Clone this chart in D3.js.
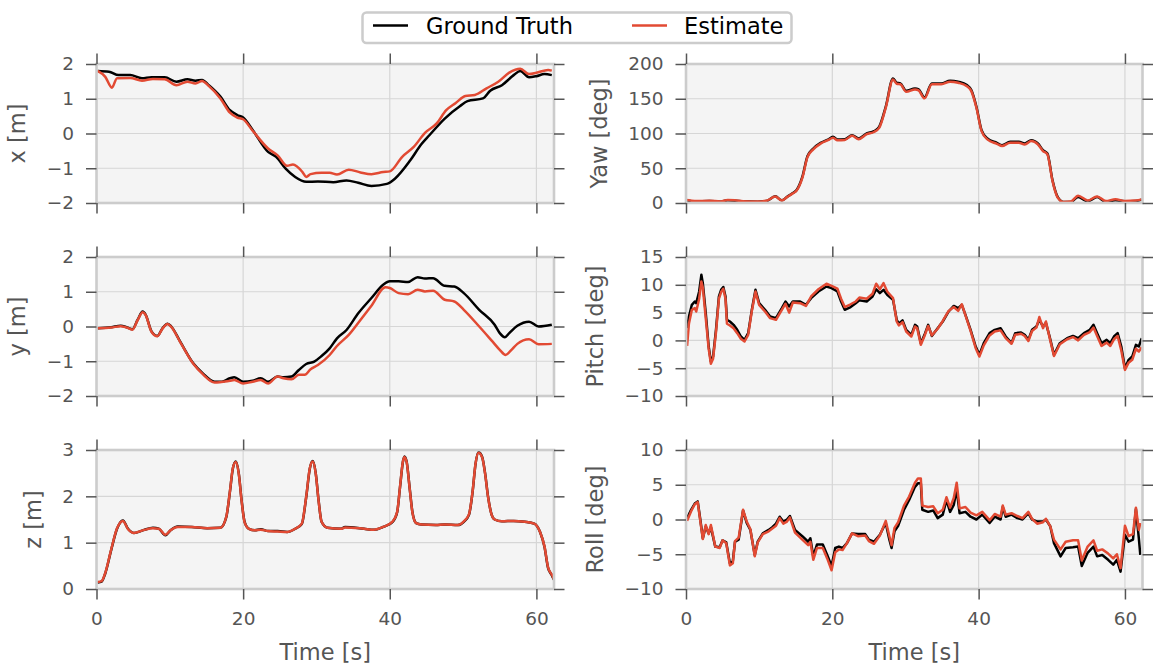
<!DOCTYPE html>
<html><head><meta charset="utf-8">
<script src="https://cdn.jsdelivr.net/npm/d3@7"></script>
<style>body{margin:0;background:#fff;} svg{display:block;font-family:"DejaVu Sans",sans-serif;}</style>
</head><body><svg id="c" width="1161" height="669"></svg>
<script>
// ---------- tick labels ----------
const timeTicks = [0, 20, 40, 60];
const posTicks = [-2, -1, 0, 1, 2];
const zTicks = [0, 1, 2, 3];
const yawTicks = [0, 50, 100, 150, 200];
const pitchTicks = [-10, -5, 0, 5, 10, 15];
const rollTicks = [-10, -5, 0, 5, 10];
const seriesNames = ["Ground Truth", "Estimate"];

// ---------- x [m] ----------
const xTimeGT = [0.15,1.7,3.0,4.6,6.2,7.5,9.3,10.9,12.4,13.5,14.4,15.3,16.9,18.2,19.2,20.0,21.3,23.4,24.5,25.8,27.1,28.6,30.2,32.3,34.1,35.7,37.5,39.6,40.7,42.8,44.3,45.4,47.5,49.6,50.6,52.7,53.7,55.3,56.9,57.8,59.0,60.0,61.1,62.1];
const xGT = [1.80,1.78,1.68,1.68,1.59,1.62,1.62,1.49,1.56,1.52,1.54,1.39,1.06,0.67,0.53,0.46,0.10,-0.53,-0.67,-1.01,-1.25,-1.39,-1.38,-1.40,-1.35,-1.42,-1.51,-1.45,-1.30,-0.77,-0.31,-0.05,0.43,0.79,0.93,1.01,1.23,1.39,1.68,1.80,1.62,1.65,1.71,1.68];
const xTimeEst = [0.15,1.2,2.1,2.8,4.6,6.2,7.7,9.3,10.9,12.4,13.5,14.4,15.3,16.9,18.2,19.2,20.0,21.3,23.4,24.7,26.0,26.8,28.1,28.6,29.2,30.7,31.8,32.8,34.4,36.0,37.5,39.1,40.0,41.7,43.3,44.8,46.4,47.7,49.0,50.3,51.6,53.2,54.8,56.3,57.8,59.0,60.0,61.6,62.1];
const xEst = [1.80,1.63,1.32,1.59,1.60,1.52,1.57,1.56,1.39,1.49,1.44,1.51,1.37,1.01,0.60,0.46,0.41,0.08,-0.43,-0.63,-0.93,-0.89,-1.11,-1.25,-1.17,-1.13,-1.13,-1.18,-1.04,-1.12,-1.17,-1.11,-1.09,-0.67,-0.38,0.02,0.29,0.67,0.88,1.08,1.11,1.30,1.49,1.75,1.86,1.71,1.75,1.83,1.81];

// ---------- y [m] ----------
const yTimeGT = [0.15,2.0,3.3,4.1,4.9,5.6,6.3,6.7,7.5,8.3,9.0,9.7,10.2,11.4,13.2,14.5,16.1,17.1,18.2,18.8,20.0,21.3,22.4,23.4,24.7,25.5,26.6,27.6,28.6,29.7,30.7,31.8,32.8,34.1,35.7,37.5,39.1,40.0,41.2,42.5,43.8,44.8,45.9,47.5,48.8,50.1,52.2,54.3,55.0,55.7,56.3,57.4,59.0,60.3,62.1];
const yGT = [-0.05,-0.02,0.02,-0.02,-0.08,0.19,0.43,0.34,-0.14,-0.27,-0.05,0.08,0.0,-0.43,-1.06,-1.35,-1.59,-1.59,-1.49,-1.46,-1.59,-1.56,-1.49,-1.59,-1.44,-1.46,-1.44,-1.25,-1.08,-1.01,-0.85,-0.63,-0.34,-0.10,0.38,0.82,1.20,1.30,1.30,1.28,1.42,1.38,1.39,1.17,1.15,0.96,0.48,0.05,-0.19,-0.31,-0.19,0.02,0.14,0.0,0.05];
const yTimeEst = [0.15,2.0,3.3,4.1,4.9,5.6,6.3,6.7,7.5,8.3,9.0,9.7,10.2,11.4,13.2,14.5,16.1,18.2,18.8,20.0,21.3,22.4,23.4,24.7,25.5,26.6,27.6,28.4,29.2,30.2,31.8,32.8,34.4,36.0,37.5,39.4,40.1,41.2,42.5,43.8,44.8,45.9,47.5,48.8,50.1,52.2,54.0,55.0,55.8,56.6,57.4,59.0,60.3,62.1];
const yEst = [-0.05,-0.03,0.01,-0.03,-0.09,0.18,0.41,0.33,-0.15,-0.28,-0.06,0.07,-0.01,-0.44,-1.07,-1.37,-1.61,-1.56,-1.54,-1.64,-1.59,-1.54,-1.64,-1.44,-1.49,-1.52,-1.39,-1.39,-1.23,-1.11,-0.82,-0.56,-0.24,0.19,0.60,1.13,1.10,0.96,0.93,1.06,1.01,1.03,0.77,0.72,0.48,0.0,-0.43,-0.67,-0.82,-0.67,-0.50,-0.37,-0.51,-0.50];

// ---------- z [m] ----------
const zTime = [0.15,0.7,1.2,2.0,2.8,3.6,4.3,5.1,6.4,7.7,8.5,9.4,10.1,11.1,13.0,15.1,16.9,17.7,18.2,18.6,19.0,19.4,19.8,20.2,20.8,21.6,22.4,23.4,24.7,26.0,27.1,28.0,28.6,29.1,29.5,29.9,30.3,30.7,31.5,33.4,33.9,36.5,37.8,39.1,40.4,41.0,41.4,41.8,42.0,42.3,42.7,43.1,43.6,44.3,46.3,47.5,49.3,50.1,50.8,51.3,51.7,52.1,52.6,53.0,53.4,53.9,54.3,55.3,56.9,58.4,59.7,60.5,61.1,61.6,62.1,62.4];
const zGT = [0.14,0.16,0.34,0.84,1.30,1.48,1.30,1.21,1.27,1.32,1.30,1.16,1.27,1.35,1.34,1.31,1.32,1.55,2.10,2.60,2.75,2.50,1.90,1.45,1.30,1.27,1.29,1.25,1.25,1.23,1.30,1.40,1.98,2.60,2.76,2.50,1.90,1.45,1.32,1.30,1.34,1.30,1.28,1.34,1.45,1.65,2.20,2.75,2.86,2.75,2.20,1.65,1.42,1.39,1.38,1.39,1.38,1.45,1.60,2.10,2.70,2.95,2.85,2.50,2.00,1.60,1.50,1.46,1.47,1.45,1.41,1.23,0.91,0.45,0.30,0.20];
const zEst = [0.15,0.17,0.35,0.85,1.31,1.47,1.29,1.21,1.27,1.31,1.30,1.17,1.27,1.34,1.34,1.31,1.32,1.56,2.11,2.61,2.74,2.49,1.89,1.44,1.30,1.27,1.28,1.25,1.24,1.23,1.30,1.41,1.99,2.61,2.75,2.49,1.89,1.45,1.32,1.30,1.33,1.30,1.28,1.34,1.46,1.66,2.21,2.76,2.85,2.74,2.19,1.64,1.42,1.39,1.38,1.39,1.38,1.46,1.61,2.11,2.71,2.94,2.84,2.49,1.99,1.60,1.50,1.46,1.47,1.45,1.41,1.23,0.92,0.46,0.31,0.21];

// ---------- Yaw [deg] ----------
const yawTime = [0.15,1.2,3.2,4.7,5.7,6.7,7.8,9.8,11.0,12.2,13.1,13.8,14.6,15.1,15.9,16.6,17.4,18.4,19.4,20.1,20.7,21.7,22.7,23.6,24.7,25.7,26.4,27.3,28.3,28.8,29.3,30.1,31.3,31.8,32.6,33.6,34.9,36.1,37.2,38.4,39.0,39.7,40.4,41.2,42.5,43.2,44.3,45.5,46.3,47.2,48.1,48.8,49.4,50.1,50.8,51.6,52.6,53.6,54.9,56.2,57.4,58.7,60.0,61.5,62.3];
const yawGT = [3.8,2.4,2.9,1.9,3.8,3.4,2.4,1.9,2.9,9.6,3.8,8.7,14.4,18.3,37.5,67.3,78.4,86.5,91.3,95.2,91.3,91.8,97.6,92.8,100,103.4,109.6,138.5,179.3,173.1,172.1,161.5,164.9,163.5,151.9,172.1,172.1,176,174.5,169.7,162.5,138.5,104.8,92.8,86.5,83.2,88,88,85.6,90.4,85.6,76,71.2,32.7,8.7,1.4,1.4,8.7,2.4,8.7,1.4,3.8,2.4,2.9,4.8];
const yawEst = [4.5,2.8,3.3,2.3,4.3,3.9,2.6,2.1,3.2,9.2,3.6,8.4,13.8,17.5,36.0,66.0,77.2,85.5,90.3,94.0,90.2,90.8,96.6,91.8,99.0,102.2,108.0,137.0,177.8,171.6,170.8,160.0,163.4,162.0,150.6,170.8,170.8,174.6,173.0,168.0,161.0,137.0,103.5,91.5,85.2,82.0,86.8,86.7,84.3,89.2,84.4,74.8,70.0,31.5,8.0,1.6,2.0,10.5,3.6,9.5,2.8,5.5,2.8,3.5,5.2];

// ---------- Pitch [deg] ----------
const pitchTime = [0.15,0.4,0.8,1.2,1.4,1.8,2.1,2.3,2.7,3.1,3.4,3.7,4.1,4.5,4.8,5.1,5.4,5.6,6.0,6.5,7.0,7.5,8.0,8.5,9.0,9.5,10.0,10.8,11.5,12.3,13.1,13.6,14.1,14.6,15.6,16.4,17.1,18.1,19.2,19.9,20.7,21.2,21.7,22.5,23.2,23.7,24.7,25.5,26.0,26.5,27.0,27.5,28.3,28.8,29.1,29.6,30.1,30.8,31.3,31.6,32.1,32.6,33.1,33.6,34.4,35.1,35.9,36.6,37.2,37.7,38.2,38.9,39.6,40.1,40.7,41.5,42.2,43.0,43.7,44.5,45.0,45.8,46.3,46.8,47.3,47.9,48.3,48.8,49.2,49.7,50.3,51.1,52.1,52.9,53.6,54.4,55.2,55.7,56.2,56.8,57.5,58.0,58.5,59.0,59.5,60.0,60.5,61.0,61.5,61.9,62.3];
const pitchGT = [2.2,4.3,6.4,7.0,6.7,8.8,11.8,10.3,4.9,-1.1,-3.8,-2.9,1.9,7.9,9.1,9.6,7.9,3.7,3.4,2.8,1.9,0.7,0.1,1.3,5.5,9.1,6.7,5.5,4.3,4.0,5.8,7.0,6.1,7.0,7.0,6.4,7.6,8.8,9.7,9.4,8.8,7.0,5.5,6.0,6.7,7.2,7.0,7.9,9.2,8.5,9.1,8.2,7.3,3.7,3.0,3.6,1.9,1.0,2.8,2.5,-0.5,1.0,2.8,0.8,2.2,3.4,5.2,6.2,5.8,6.4,4.6,1.9,-1.1,-2.6,-0.5,1.3,1.9,2.2,0.7,-0.5,1.3,1.4,1.0,0.1,1.9,2.5,3.7,2.5,3.1,0.7,-2.6,-0.5,0.4,0.8,0.4,1.3,1.9,2.8,1.3,-0.5,0.1,-0.5,0.7,1.3,-1.1,-5.0,-3.5,-2.9,-0.8,-1.1,0.4];
const pitchEst = [-1.0,3.0,5.5,5.8,5.2,7.5,10.6,9.5,4.0,-1.5,-4.2,-3.3,1.5,7.5,8.7,9.3,7.5,3.0,2.7,2.2,1.3,0.3,-0.2,1.0,5.3,8.8,6.4,5.2,4.0,3.7,5.5,6.6,5.0,6.8,6.7,6.2,7.9,9.2,10.2,9.8,9.3,7.5,6.0,6.5,7.0,7.7,7.5,8.4,10.2,9.2,10.3,8.8,7.6,3.4,2.7,3.3,1.6,0.7,2.5,2.2,-0.8,0.8,2.6,0.9,2.1,3.5,5.3,6.0,5.3,6.5,4.5,1.7,-1.4,-2.9,-0.9,0.9,1.6,1.8,0.4,-0.6,1.0,1.2,0.8,-0.1,1.7,2.3,4.2,2.2,3.4,0.5,-2.8,-0.7,0.2,0.6,0.0,1.0,1.5,2.3,0.8,-1.0,-0.4,-1.0,0.2,0.8,-1.8,-5.3,-4.0,-3.5,-1.5,-2.0,-1.2];

// ---------- Roll [deg] ----------
const rollTime = [0.15,0.7,1.2,1.6,1.9,2.3,2.7,3.1,3.4,4.0,4.6,5.0,5.5,6.0,6.4,6.7,7.2,7.8,8.3,8.8,9.4,9.8,10.5,11.3,11.8,12.3,12.8,13.3,13.8,14.2,14.9,15.9,16.7,17.0,17.4,17.9,18.7,19.3,19.9,20.4,20.9,21.4,22.0,22.7,23.5,24.5,25.0,25.7,26.5,27.3,27.8,28.1,28.5,29.0,29.8,30.5,31.3,31.7,32.1,32.3,33.1,33.8,34.4,35.1,35.6,36.1,36.6,37.0,37.4,38.2,38.9,39.7,40.5,41.5,42.2,43.0,43.3,43.7,44.5,45.3,46.0,46.8,47.3,48.0,48.8,49.2,49.8,50.3,51.2,51.9,52.9,53.6,54.1,54.9,55.7,56.2,56.9,57.7,58.4,58.9,59.4,60.0,60.5,61.1,61.5,61.9,62.1];
const rollGT = [0.2,1.4,2.3,2.6,0.4,-2.7,-1.0,-2.0,-1.1,-3.9,-4.0,-3.0,-3.3,-6.3,-6.0,-3.2,-2.9,1.3,-0.5,-1.5,-5.1,-3.2,-2.0,-1.5,-1.1,-0.6,0.4,-0.3,0.0,0.5,-1.5,-2.4,-3.2,-2.7,-5.3,-3.6,-3.6,-5.1,-6.7,-4.1,-3.9,-4.1,-3.4,-2.0,-2.1,-2.1,-2.9,-3.2,-2.2,-0.5,-2.9,-4.1,-1.7,-0.9,1.4,2.8,4.7,5.2,5.2,1.4,1.1,1.3,0.2,0.7,2.8,1.1,2.1,4.3,0.9,1.1,0.4,0.0,0.7,-0.5,0.4,0.0,1.8,0.4,0.7,0.2,0.0,0.9,0.0,-0.3,-0.3,0.0,-1.0,-3.4,-5.3,-4.1,-4.0,-3.9,-6.7,-4.8,-3.9,-5.3,-5.1,-5.8,-6.5,-5.8,-7.5,-2.2,-3.2,-2.9,1.5,-2.7,-5.1];
const rollEst = [-0.2,1.2,2.2,2.5,0.2,-2.8,-0.8,-2.1,-0.8,-3.9,-4.1,-3.0,-3.4,-6.6,-6.3,-3.1,-2.6,1.4,-0.3,-1.4,-5.3,-3.3,-2.1,-1.7,-1.3,-0.9,0.2,-0.6,-0.3,0.3,-1.9,-2.9,-3.7,-3.2,-5.8,-4.1,-4.1,-5.6,-7.3,-4.7,-4.3,-4.4,-3.4,-2.0,-2.4,-2.3,-3.1,-3.5,-2.3,-0.2,-2.4,-3.7,-1.2,-0.4,2.0,3.3,5.3,5.9,5.9,2.0,1.8,1.9,0.9,1.4,3.2,1.7,3.1,5.3,1.6,1.8,1.0,0.6,1.1,-0.1,0.8,0.4,2.0,0.7,0.9,0.5,0.2,1.1,0.1,-0.6,-0.4,0.1,-1.0,-2.9,-4.3,-3.2,-3.0,-3.0,-5.9,-3.9,-3.0,-4.5,-4.3,-4.9,-5.6,-5.0,-7.0,-0.9,-2.4,-2.1,1.7,-1.5,-0.5];

// ---------- layout ----------
const tMax = 62.4;
const cols = [{x0: 96.5, x1: 554}, {x0: 686, x1: 1142.5}];
const rows = [{y0: 64, y1: 203}, {y0: 257, y1: 396}, {y0: 450, y1: 589}];
const colorGT = "#000000", colorEst = "#E24A33";

const panels = [
  {c:0, r:0, label:"x [m]", dom:[-2,2], ticks:posTicks, gt:[xTimeGT,xGT], est:[xTimeEst,xEst], curve:d3.curveMonotoneX},
  {c:0, r:1, label:"y [m]", dom:[-2,2], ticks:posTicks, gt:[yTimeGT,yGT], est:[yTimeEst,yEst], curve:d3.curveMonotoneX},
  {c:0, r:2, label:"z [m]", dom:[0,3], ticks:zTicks, gt:[zTime,zGT], est:[zTime,zEst], curve:d3.curveMonotoneX},
  {c:1, r:0, label:"Yaw [deg]", dom:[0,200], ticks:yawTicks, gt:[yawTime,yawGT], est:[yawTime,yawEst], curve:d3.curveMonotoneX},
  {c:1, r:1, label:"Pitch [deg]", dom:[-10,15], ticks:pitchTicks, gt:[pitchTime,pitchGT], est:[pitchTime,pitchEst], curve:d3.curveLinear},
  {c:1, r:2, label:"Roll [deg]", dom:[-10,10], ticks:rollTicks, gt:[rollTime,rollGT], est:[rollTime,rollEst], curve:d3.curveLinear}
];

const svg = d3.select("#c");
const fmt = d3.format("d");
const TICK = 10.5, PAD = 12;

panels.forEach((p, i) => {
  const col = cols[p.c], row = rows[p.r];
  const x = d3.scaleLinear().domain([0, tMax]).range([col.x0, col.x1]);
  const y = d3.scaleLinear().domain(p.dom).range([row.y1, row.y0]);
  const g = svg.append("g");
  const w = col.x1 - col.x0, h = row.y1 - row.y0;

  g.append("rect").attr("x", col.x0).attr("y", row.y0).attr("width", w).attr("height", h).attr("fill", "#f4f4f4");

  // grid
  g.append("g").selectAll("line").data(timeTicks).join("line")
    .attr("x1", d => x(d)).attr("x2", d => x(d)).attr("y1", row.y0).attr("y2", row.y1)
    .attr("stroke", "#d6d6d6").attr("stroke-width", 1.2);
  g.append("g").selectAll("line").data(p.ticks).join("line")
    .attr("x1", col.x0).attr("x2", col.x1).attr("y1", d => y(d)).attr("y2", d => y(d))
    .attr("stroke", "#d6d6d6").attr("stroke-width", 1.2);

  // clip
  const cid = "clip" + i;
  svg.append("clipPath").attr("id", cid).append("rect")
    .attr("x", col.x0).attr("y", row.y0).attr("width", w).attr("height", h);

  const line = d3.line().x(d => x(d[0])).y(d => y(d[1])).curve(p.curve);
  const gtData = p.gt[0].map((t, k) => [t, p.gt[1][k]]);
  const estData = p.est[0].map((t, k) => [t, p.est[1][k]]);
  const lg = g.append("g").attr("clip-path", `url(#${cid})`);
  lg.append("path").datum(gtData).attr("d", line).attr("fill", "none")
    .attr("stroke", colorGT).attr("stroke-width", 2.5).attr("stroke-linejoin", "round");
  lg.append("path").datum(estData).attr("d", line).attr("fill", "none")
    .attr("stroke", colorEst).attr("stroke-width", 2.5).attr("stroke-linejoin", "round");

  // frame
  g.append("rect").attr("x", col.x0).attr("y", row.y0).attr("width", w).attr("height", h)
    .attr("fill", "none").attr("stroke", "#cccccc").attr("stroke-width", 2.6);

  // axes
  const styleAxis = sel => {
    sel.select(".domain").remove();
    sel.selectAll(".tick line").attr("stroke", "#555").attr("stroke-width", 1.5);
    sel.selectAll(".tick text").attr("fill", "#555").style("font-size", "18.5px")
      .style("font-family", "'DejaVu Sans', sans-serif");
  };
  const showX = p.r === 2;
  const ax = g.append("g").attr("transform", `translate(0,${row.y1})`)
    .call(d3.axisBottom(x).tickValues(timeTicks).tickSize(TICK).tickPadding(PAD)
      .tickFormat(showX ? fmt : () => ""));
  styleAxis(ax);
  g.append("g").attr("transform", `translate(0,${row.y0})`)
    .call(d3.axisTop(x).tickValues(timeTicks).tickSize(TICK).tickFormat(() => "")).call(styleAxis);
  const ay = g.append("g").attr("transform", `translate(${col.x0},0)`)
    .call(d3.axisLeft(y).tickValues(p.ticks).tickSize(TICK).tickPadding(PAD).tickFormat(fmt));
  styleAxis(ay);
  g.append("g").attr("transform", `translate(${col.x1},0)`)
    .call(d3.axisRight(y).tickValues(p.ticks).tickSize(TICK).tickFormat(() => "")).call(styleAxis);

  // y label placed relative to widest tick label
  let minLeft = Infinity;
  ay.selectAll(".tick text").each(function() {
    const b = this.getBBox();
    const tr = this.parentNode.transform.baseVal.consolidate();
    minLeft = Math.min(minLeft, col.x0 + b.x);
  });
  const bx = minLeft - 16 - 5.3;
  const cy = (row.y0 + row.y1) / 2;
  g.append("text").attr("transform", `translate(${bx},${cy}) rotate(-90)`)
    .attr("text-anchor", "middle").attr("fill", "#555").style("font-size", "22.5px")
    .text(p.label);

  if (showX) {
    g.append("text").attr("x", (col.x0 + col.x1) / 2).attr("y", 660)
      .attr("text-anchor", "middle").attr("fill", "#555").style("font-size", "22.5px")
      .text("Time [s]");
  }
});

// legend
const leg = svg.append("g");
leg.append("rect").attr("x", 362.5).attr("y", 12.5).attr("width", 429).attr("height", 30.5)
  .attr("rx", 4).attr("fill", "#fff").attr("stroke", "#cccccc").attr("stroke-width", 2.5);
const legItems = [
  {name: seriesNames[0], color: colorGT, lx: 373, tx: 426},
  {name: seriesNames[1], color: colorEst, lx: 632, tx: 684}
];
legItems.forEach(it => {
  leg.append("line").attr("x1", it.lx).attr("x2", it.lx + 35).attr("y1", 25.5).attr("y2", 25.5)
    .attr("stroke", it.color).attr("stroke-width", 2.5);
  leg.append("text").attr("x", it.tx).attr("y", 33.5).attr("fill", "#000")
    .style("font-size", "22.5px").text(it.name);
});
</script></body></html>
